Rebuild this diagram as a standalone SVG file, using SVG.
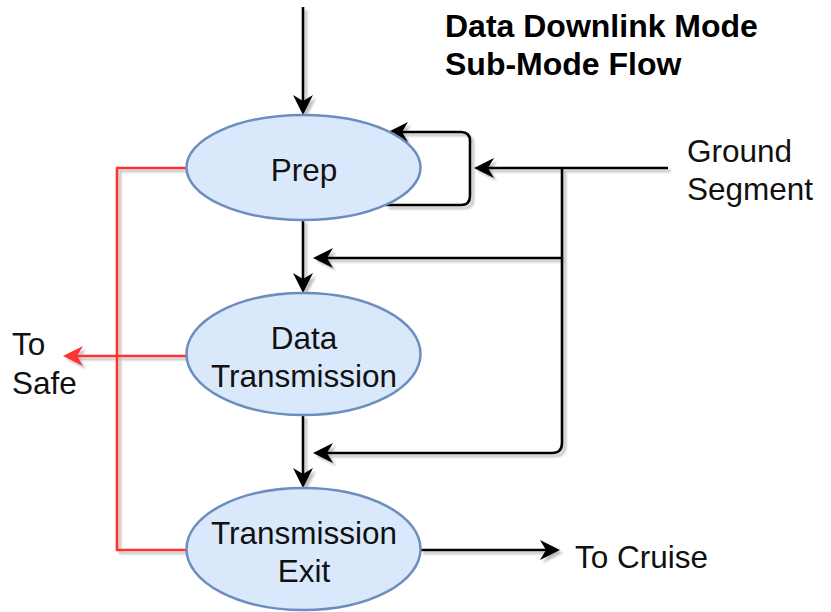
<svg xmlns="http://www.w3.org/2000/svg" width="831" height="612" viewBox="0 0 831 612">
  <style>
    .node { fill: #dae8fc; stroke: #6c8ebf; stroke-width: 2.5; }
    .lbl { font-family: "Liberation Sans", Arial, sans-serif; font-size: 31.5px; fill: #111; }
    .title { font-family: "Liberation Sans", Arial, sans-serif; font-size: 32px; font-weight: bold; fill: #000; }
    .edge { fill: none; stroke: #000; stroke-width: 2.6; stroke-linejoin: round; }
    .edge.red { stroke: #ff3333; }
  </style>
  <defs>
    <filter id="shadow" x="-10%" y="-10%" width="130%" height="130%">
      <feGaussianBlur in="SourceAlpha" stdDeviation="0.8" result="b"/>
      <feOffset in="b" dx="2.5" dy="2.5" result="o"/>
      <feComponentTransfer in="o" result="s"><feFuncA type="linear" slope="0.25"/></feComponentTransfer>
      <feMerge><feMergeNode in="s"/><feMergeNode in="SourceGraphic"/></feMerge>
    </filter>
    <marker id="arrow" markerUnits="userSpaceOnUse" markerWidth="22" markerHeight="22" refX="6" refY="10" orient="auto">
      <path d="M0,0 L20,10 L0,20 L6,10 Z" fill="#000"/>
    </marker>
    <marker id="arrowRed" markerUnits="userSpaceOnUse" markerWidth="22" markerHeight="22" refX="6" refY="10" orient="auto">
      <path d="M0,0 L20,10 L0,20 L6,10 Z" fill="#ff3333"/>
    </marker>
  </defs>

  <text class="title" x="445" y="37">Data Downlink Mode</text>
  <text class="title" x="445" y="75">Sub-Mode Flow</text>

  <g id="connectors" filter="url(#shadow)">
    <path class="edge" d="M303,7 L303,101" marker-end="url(#arrow)"/>
    <path class="edge" d="M303,220 L303,279" marker-end="url(#arrow)"/>
    <path class="edge" d="M303,415 L303,474" marker-end="url(#arrow)"/>
    <path class="edge" d="M386,205 L461,205 Q470,205 470,196 L470,141 Q470,132 461,132 L402,132" marker-end="url(#arrow)"/>
    <path class="edge" d="M668,168 L488,168" marker-end="url(#arrow)"/>
    <path class="edge" d="M562,168 L562,258 L327,258" marker-end="url(#arrow)"/>
    <path class="edge" d="M562,258 L562,443 Q562,453 552,453 L327,453" marker-end="url(#arrow)"/>
    <path class="edge" d="M420,550 L546,550" marker-end="url(#arrow)"/>
    <path class="edge red" d="M187,168 L117,168 L117,550 L187,550"/>
    <path class="edge red" d="M186,356 L77,356" marker-end="url(#arrowRed)"/>
  </g>

  <g id="prep">
    <ellipse class="node" cx="303.5" cy="167.5" rx="117" ry="52.5"/>
    <text class="lbl" x="304" y="181" text-anchor="middle">Prep</text>
  </g>
  <g id="data-transmission">
    <ellipse class="node" cx="303.5" cy="354" rx="117" ry="61"/>
    <text class="lbl" x="304" y="349" text-anchor="middle">Data</text>
    <text class="lbl" x="304" y="387" text-anchor="middle">Transmission</text>
  </g>
  <g id="transmission-exit">
    <ellipse class="node" cx="303.5" cy="549" rx="117" ry="61"/>
    <text class="lbl" x="304" y="544" text-anchor="middle">Transmission</text>
    <text class="lbl" x="304" y="582" text-anchor="middle">Exit</text>
  </g>
  <g id="ground-segment">
    <text class="lbl" x="687" y="162">Ground</text>
    <text class="lbl" x="687" y="200">Segment</text>
  </g>
  <g id="to-safe">
    <text class="lbl" x="12" y="355">To</text>
    <text class="lbl" x="12" y="394">Safe</text>
  </g>
  <g id="to-cruise">
    <text class="lbl" x="575" y="568">To Cruise</text>
  </g>
</svg>
